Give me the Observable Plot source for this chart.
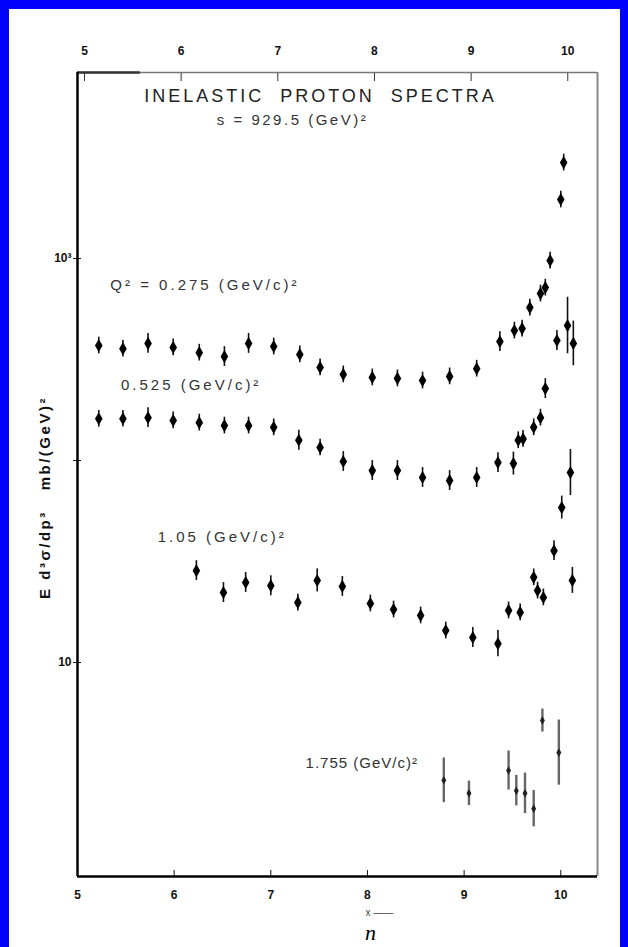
<!DOCTYPE html>
<html>
<head>
<meta charset="utf-8">
<script src="https://cdn.jsdelivr.net/npm/d3@7"></script>
<script src="https://cdn.jsdelivr.net/npm/@observablehq/plot@0.6"></script>
<style>
  html, body { margin: 0; padding: 0; background: #0000fe; }
  body { width: 628px; height: 947px; overflow: hidden; position: relative; }
  #chart { position: absolute; left: 9px; top: 9px; width: 611px; height: 938px; background: #fff; }
  #chart svg { display: block; }
</style>
</head>
<body>
<div id="chart"></div>
<script>
// Invariant inelastic proton cross sections at s = 929.5 GeV², four momentum-transfer bins.
const title = "INELASTIC  PROTON  SPECTRA";
const subtitle = "s = 929.5 (GeV)²";
const yTitle = "E d³σ/dp³   mb/(GeV)²";
const xTitle = "x ——";

const xTicks = [5, 6, 7, 8, 9, 10];
const yTicks = [10, 100, 1000];
const yTickLabels = ["10", "", "10³"];

// bin 1
const x1 = [5.22, 5.47, 5.73, 5.99, 6.26, 6.52, 6.77, 7.03, 7.30, 7.51, 7.75, 8.05, 8.31, 8.57, 8.85, 9.13, 9.37, 9.52, 9.60, 9.68, 9.79, 9.84, 9.89, 9.96, 10.00, 10.03, 10.07, 10.13];
const y1 = [371, 358, 380, 363, 342, 327, 380, 367, 335, 289, 267, 258, 255, 249, 261, 285, 388, 440, 450, 572, 671, 718, 977, 393, 1960, 2987, 466, 380];
const e1 = [0.1, 0.1, 0.12, 0.1, 0.1, 0.12, 0.12, 0.1, 0.1, 0.1, 0.1, 0.1, 0.1, 0.1, 0.1, 0.1, 0.12, 0.1, 0.1, 0.1, 0.1, 0.1, 0.1, 0.12, 0.1, 0.1, 0.38, 0.29];

// bin 2
const x2 = [5.22, 5.47, 5.73, 5.99, 6.26, 6.52, 6.77, 7.03, 7.29, 7.51, 7.75, 8.05, 8.31, 8.57, 8.85, 9.13, 9.35, 9.51, 9.56, 9.61, 9.72, 9.79, 9.84];
const y2 = [161, 161, 163, 158, 154, 149, 149, 146, 126, 116, 98.9, 89.2, 89.2, 82.4, 79.6, 82.4, 97.7, 96.6, 126, 128, 146, 163, 227];
const e2 = [0.1, 0.1, 0.12, 0.1, 0.1, 0.1, 0.1, 0.1, 0.12, 0.1, 0.12, 0.12, 0.12, 0.12, 0.12, 0.12, 0.12, 0.14, 0.1, 0.1, 0.1, 0.1, 0.12];

// bin 3
const x3 = [6.23, 6.51, 6.74, 7.00, 7.28, 7.48, 7.74, 8.03, 8.27, 8.55, 8.81, 9.09, 9.35, 9.46, 9.58, 9.72, 9.76, 9.82, 9.93, 10.01, 10.10, 10.12];
const y3 = [28.5, 22.2, 24.9, 24.0, 19.8, 25.5, 23.8, 19.6, 18.3, 17.1, 14.4, 13.3, 12.4, 18.1, 17.7, 26.4, 22.7, 21.0, 35.8, 58.5, 87.2, 25.5];
const e3 = [0.12, 0.12, 0.12, 0.12, 0.1, 0.14, 0.12, 0.1, 0.1, 0.1, 0.1, 0.12, 0.16, 0.1, 0.1, 0.1, 0.1, 0.1, 0.12, 0.14, 0.3, 0.16];

// bin 4
const x4 = [8.79, 9.05, 9.46, 9.54, 9.63, 9.72, 9.81, 9.98];
const y4 = [2.61, 2.25, 2.92, 2.32, 2.25, 1.89, 5.16, 3.58];
const e4 = [0.29, 0.15, 0.25, 0.19, 0.26, 0.23, 0.14, 0.45];

const binLabels = ["Q² = 0.275 (GeV/c)²", "0.525 (GeV/c)²", "1.05 (GeV/c)²", "1.755 (GeV/c)²"];
const binLabelX = [5.34, 5.45, 5.83, 7.36];
const binLabelY = [735, 235, 41.6, 3.16];
const binLabelSpacing = [3, 3, 3, 1];

const series = [[x1, y1, e1], [x2, y2, e2], [x3, y3, e3], [x4, y4, e4]];
const points = series.flatMap(([xs, ys, es], s) =>
  xs.map((x, i) => ({bin: s, x, y: ys[i], lo: ys[i] / (1 + es[i]), hi: ys[i] * (1 + es[i])}))
);
const labels = binLabels.map((text, i) => ({text, x: binLabelX[i], y: binLabelY[i]}));

const xDomain = [5, 10.38];
const yDomain = [0.872, 8340];
const sans = "'Liberation Sans', Arial, sans-serif";

const chart = Plot.plot({
  width: 611,
  height: 938,
  marginLeft: 68,
  marginRight: 23,
  marginTop: 63,
  marginBottom: 71,
  style: {fontFamily: sans, fontSize: "11px", color: "#111", background: "#fff"},
  x: {domain: xDomain, axis: null},
  y: {type: "log", domain: yDomain, axis: null},
  marks: [
    // frame: heavy left and bottom edges, lighter top and right
    Plot.ruleY([yDomain[1]], {stroke: "#777", strokeWidth: 1.6}),
    Plot.ruleY([yDomain[1]], {x1: xDomain[0], x2: 5.65, stroke: "#333", strokeWidth: 2.6}),
    Plot.ruleX([xDomain[1]], {stroke: "#888", strokeWidth: 2}),
    Plot.ruleX([xDomain[0]], {stroke: "#000", strokeWidth: 2.5}),
    Plot.ruleY([yDomain[0]], {stroke: "#000", strokeWidth: 2.5}),

    Plot.axisX({anchor: "bottom", label: null, ticks: xTicks, tickFormat: d => String(d), tickSize: 6, dy: -6, tickPadding: 14, fontWeight: "bold", fontSize: 12}),
    Plot.axisX({anchor: "top", label: null, ticks: xTicks, tickFormat: d => String(d), tickSize: 8, dy: 8, dx: 7, tickPadding: 18, fontWeight: "bold", fontSize: 12, stroke: "#333"}),
    Plot.axisY({anchor: "left", label: null, ticks: yTicks, tickFormat: d => yTickLabels[yTicks.indexOf(d)], tickSize: 8, dx: 4, tickPadding: 2, fontWeight: "bold", fontSize: 12}),

    // error bars and points
    Plot.ruleX(points.filter(d => d.bin < 3), {x: "x", y1: "lo", y2: "hi", stroke: "#111", strokeWidth: 1.6}),
    Plot.ruleX(points.filter(d => d.bin === 3), {x: "x", y1: "lo", y2: "hi", stroke: "#666", strokeWidth: 2.4}),
    Plot.dot(points.filter(d => d.bin < 3), {x: "x", y: "y", symbol: "diamond", r: 4, fill: "#000"}),
    Plot.dot(points.filter(d => d.bin === 3), {x: "x", y: "y", symbol: "diamond", r: 2.6, fill: "#222"}),

    // bin labels
    Plot.text(labels, {x: "x", y: "y", text: "text", textAnchor: "start", fontSize: 15, fill: "#333"}),

    // titles
    Plot.text([title], {frameAnchor: "top", dx: -17, dy: 24, fontSize: 18, fill: "#222", lineAnchor: "middle", textAnchor: "middle"}),
    Plot.text([subtitle], {frameAnchor: "top", dx: -45, dy: 48, fontSize: 15, fill: "#333", lineAnchor: "middle", textAnchor: "middle"}),
    Plot.text([yTitle], {frameAnchor: "left", dx: -32, dy: 23, rotate: -90, fontSize: 15, fontWeight: "bold", fill: "#111", lineAnchor: "middle", textAnchor: "middle"}),
    Plot.text([xTitle], {frameAnchor: "bottom", dx: 28, dy: 36, fontSize: 10, fill: "#444", lineAnchor: "middle", textAnchor: "start"}),
    Plot.text(["n"], {frameAnchor: "bottom", dx: 33, dy: 56, fontSize: 22, fontStyle: "italic", fontFamily: "'Liberation Serif', serif", fill: "#000", lineAnchor: "middle", textAnchor: "middle"})
  ]
});

// widen the typewritten lettering
const spacing = new Map([[title, 3], [subtitle, 2.5], [yTitle, 2.5], ...binLabels.map((t, i) => [t, binLabelSpacing[i]])]);
d3.select(chart).selectAll("text").each(function () {
  const s = spacing.get(this.textContent);
  if (s != null) this.setAttribute("letter-spacing", s);
});

document.getElementById("chart").appendChild(chart);
</script>
</body>
</html>
